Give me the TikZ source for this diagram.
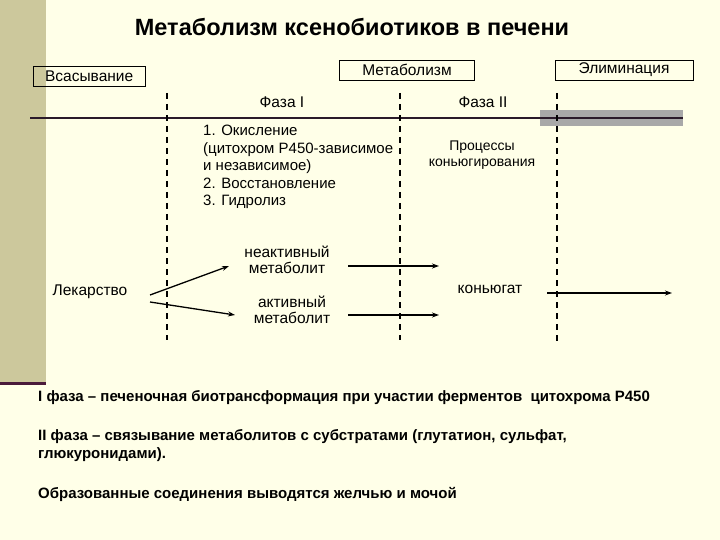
\documentclass[tikz,border=0pt]{standalone}
\usepackage{fontspec}
\setmainfont{Liberation Sans}
\usetikzlibrary{arrows.meta}
\definecolor{bg}{HTML}{FFFFE8}
\definecolor{barc}{HTML}{CCC89C}
\definecolor{linec}{HTML}{2A1A2A}
\definecolor{greyb}{HTML}{A8A8A8}
\definecolor{barline}{HTML}{4A1A3A}
\begin{document}
\begin{tikzpicture}[x=1pt,y=-1pt,
  txt/.style={font=\fontsize{15.5}{17}\selectfont, inner sep=0pt},
  btxt/.style={font=\bfseries\fontsize{15}{17}\selectfont, inner sep=0pt, anchor=west},
  hbox/.style={draw, thin, font=\fontsize{15.5}{17}\selectfont, minimum height=20pt, inner sep=1pt},
  dashln/.style={line width=1.3pt, dash pattern=on 6pt off 5pt},
  arr/.style={-{Stealth[length=7pt,width=5pt]}, line width=1.3pt}]
\useasboundingbox (0,0) rectangle (720,540);
\fill[bg] (0,0) rectangle (720,540);
\fill[barc] (0,0) rectangle (46,383);
\draw[barline, line width=3pt] (0,383) -- (46,383);
\node[font=\bfseries\fontsize{23.5}{26}\selectfont] (title) at (352,27) {Метаболизм ксенобиотиков в печени};
\node[hbox, minimum width=112pt, anchor=west] (abs) at (33,76) {Всасывание};
\node[hbox, minimum width=135pt] (met) at (407,70) {Метаболизм};
\node[hbox, minimum width=138pt] (elim) at (624,70) {Элиминация};
\node[txt] (f1) at (282,102) {Фаза I};
\node[txt] (f2) at (483,102) {Фаза II};
\fill[greyb] (540,110) rectangle (683,126);
\draw[linec, line width=2pt] (30,118) -- (683,118);
\draw[dashln] (167,93) -- (167,340);
\draw[dashln] (400,93) -- (400,340);
\draw[dashln] (557,93) -- (557,345);
\node[txt, anchor=north west, align=left, font=\fontsize{15}{17.5}\selectfont] (ph1) at (203,125) {1. Окисление\\(цитохром Р450-зависимое\\и независимое)\\2. Восстановление\\3. Гидролиз};
\node[txt, align=center, font=\fontsize{14}{16}\selectfont] (ph2) at (482,155) {Процессы\\коньюгирования};
\node[txt, align=center, font=\fontsize{15.5}{16.5}\selectfont] (inact) at (287,260) {неактивный\\метаболит};
\node[txt, align=center, font=\fontsize{15.5}{16.5}\selectfont] (act) at (292,310) {активный\\метаболит};
\node[txt] (drug) at (90,292) {Лекарство};
\node[txt] (conj) at (490,289) {коньюгат};
\coordinate (d1) at (150,295); \coordinate (d2) at (150,302);
\coordinate (i1) at (229,266); \coordinate (a1) at (235,315);
\coordinate (i2) at (348,266); \coordinate (i3) at (439,266);
\coordinate (a2) at (348,315); \coordinate (a3) at (439,315);
\coordinate (c1) at (547,293); \coordinate (c2) at (672,293);
\draw[arr] (d1) -- (i1);
\draw[arr] (d2) -- (a1);
\draw[arr] (i2) -- (i3);
\draw[arr] (a2) -- (a3);
\draw[arr] (c1) -- (c2);
\node[btxt] (b1) at (38,398) {I фаза – печеночная биотрансформация при участии ферментов\ \ цитохрома Р450};
\node[btxt] (b2) at (38,437) {II фаза – связывание метаболитов с субстратами (глутатион, сульфат,};
\node[btxt] (b3) at (38,455) {глюкуронидами).};
\node[btxt] (b4) at (38,494) {Образованные соединения выводятся желчью и мочой};
\end{tikzpicture}
\end{document}
